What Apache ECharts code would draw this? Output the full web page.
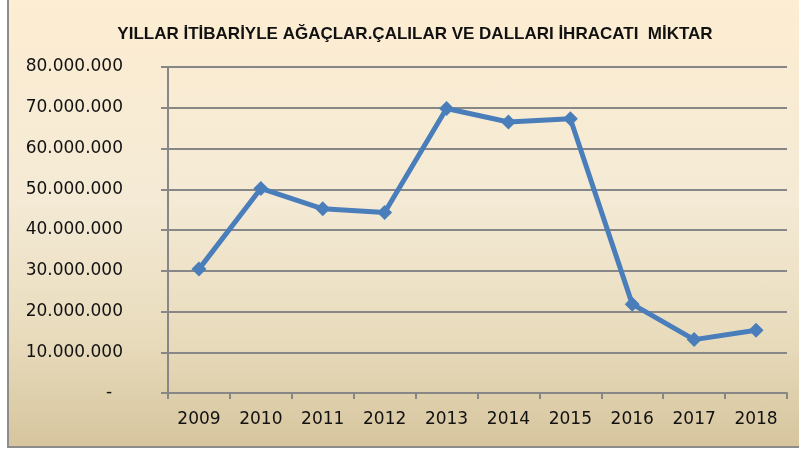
<!DOCTYPE html>
<html>
<head>
<meta charset="utf-8">
<script src="https://cdn.jsdelivr.net/npm/echarts@6/dist/echarts.min.js"></script>
<style>
  html, body { margin: 0; padding: 0; }
  #chart {
    box-sizing: border-box;
    border-left: 2px solid #8c8c8c;
    border-bottom: 2px solid #8c8c8c;
    margin-left: 7px;
    width: 792px;
    height: 448px;
    background: linear-gradient(to bottom, #fdedd2 0%, #f4ead5 45%, #e9dcbd 75%, #d6c59e 100%);
  }
</style>
</head>
<body>
<div id="chart"></div>
<script>
// yıllar
var years = ["2009", "2010", "2011", "2012", "2013", "2014", "2015", "2016", "2017", "2018"];
// ihracat miktarı
var amounts = [30400000, 50200000, 45200000, 44300000, 69800000, 66500000, 67300000, 21800000, 13100000, 15400000];
// y ekseni
var yMax = 80000000;
var yStep = 10000000;

//binlik ayırıcı nokta, sıfır için tire
function fmt(v) {
  if (v === 0) return "-  ";
  return String(v).replace(/\B(?=(\d{3})+(?!\d))/g, ".");
}

var myChart = echarts.init(document.getElementById("chart"));
var option = {
  backgroundColor: "transparent",
  animation: false,
  title: {
    text: "YILLAR İTİBARİYLE AĞAÇLAR.ÇALILAR VE DALLARI İHRACATI  MİKTAR",
    left: 401,
    top: 21,
    textAlign: "center",
    textStyle: {
      fontFamily: "Liberation Sans",
      fontWeight: "bold",
      fontSize: 17,
      color: "#111"
    }
  },
  grid: {
    left: 159,
    right: 12,
    top: 67,
    bottom: 53
  },
  xAxis: {
    type: "category",
    data: years,
    boundaryGap: true,
    axisLine: { lineStyle: { color: "#878787", width: 2 } },
    axisTick: { show: true, length: 6, lineStyle: { color: "#878787", width: 2 } },
    axisLabel: {
      margin: 18,
      color: "#111",
      fontFamily: "DejaVu Sans",
      fontSize: 17
    }
  },
  yAxis: {
    type: "value",
    min: 0,
    max: yMax,
    interval: yStep,
    axisLine: { show: true, lineStyle: { color: "#878787", width: 2 } },
    axisTick: { show: true, length: 7, lineStyle: { color: "#878787", width: 2 } },
    splitLine: { lineStyle: { color: "#878787", width: 2 } },
    axisLabel: {
      margin: 45,
      color: "#111",
      fontFamily: "DejaVu Sans",
      fontSize: 17,
      formatter: fmt
    }
  },
  series: [
    {
      type: "line",
      data: amounts,
      symbol: "diamond",
      symbolSize: 15,
      itemStyle: { color: "#4a7ebb" },
      lineStyle: { color: "#4a7ebb", width: 5 }
    }
  ]
};
myChart.setOption(option);
</script>
</body>
</html>
